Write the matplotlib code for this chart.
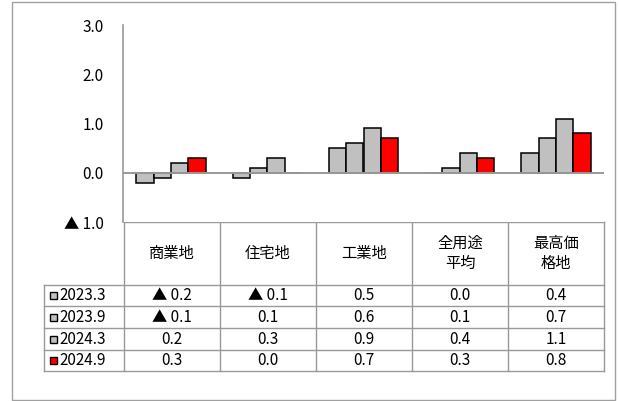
import matplotlib.pyplot as plt
import numpy as np
from matplotlib.patches import Rectangle

plt.rcParams['font.family'] = ['Noto Sans CJK JP', 'DejaVu Sans']

categories = ['商業地', '住宅地', '工業地', '全用途\n平均', '最高価\n格地']
series = ['2023.3', '2023.9', '2024.3', '2024.9']
values = [
    [-0.2, -0.1, 0.5, 0.0, 0.4],
    [-0.1, 0.1, 0.6, 0.1, 0.7],
    [0.2, 0.3, 0.9, 0.4, 1.1],
    [0.3, 0.0, 0.7, 0.3, 0.8],
]
colors = ['#C0C0C0', '#C0C0C0', '#C0C0C0', '#FF0000']
yticks = [-1, 0, 1, 2, 3]
ylabels = ['▲ 1.0', '0.0', '1.0', '2.0', '3.0']

W, H = 619, 401
fig = plt.figure(figsize=(W / 100, H / 100), dpi=100)

def px(x0, y0, x1, y1):
    return [x0 / W, 1 - y1 / H, (x1 - x0) / W, (y1 - y0) / H]

# overlay for borders / table
ov = fig.add_axes([0, 0, 1, 1])
ov.set_xlim(0, W)
ov.set_ylim(H, 0)
ov.axis('off')
ov.add_patch(Rectangle((12, 2), W - 16, H - 3, fill=False, ec='#A0A0A0', lw=1))

ax = fig.add_axes(px(123, 25, 604, 222))
x = np.arange(len(categories))
bw = 0.18
for i, (s, v, c) in enumerate(zip(series, values, colors)):
    ax.bar(x + (i - 1.5) * bw, v, bw, color=c, edgecolor='black', lw=1.1, zorder=3)
ax.axhline(0, color='#999999', lw=1.4, zorder=4)
ax.set_xlim(-0.5, 4.5)
ax.set_ylim(-1, 3)
ax.set_yticks(yticks)
ax.set_yticklabels(ylabels, fontsize=11)
ax.tick_params(axis='y', length=0, pad=14)
ax.set_xticks([])
for sp in ['top', 'right', 'bottom']:
    ax.spines[sp].set_visible(False)
ax.spines['left'].set_color('#999999')
ax.spines['left'].set_linewidth(1.2)

# table
lc = '#999999'
col_x = [44, 124, 220, 316, 412, 508, 604]
row_y = [222, 285, 306, 328, 350, 371]
ov.plot([124, 604], [222, 222], color=lc, lw=1)
for cx in col_x[1:]:
    ov.plot([cx, cx], [222, 371], color=lc, lw=1)
ov.plot([44, 44], [285, 371], color=lc, lw=1)
for ry in row_y[1:]:
    ov.plot([44, 604], [ry, ry], color=lc, lw=1)
for j, cat in enumerate(categories):
    ov.text((col_x[j + 1] + col_x[j + 2]) / 2, (222 + 285) / 2, cat,
            ha='center', va='center', fontsize=11, linespacing=1.3)

def fmt(v):
    return ('▲ %.1f' % abs(v)) if v < 0 else '%.1f' % v

for i, (s, v, c) in enumerate(zip(series, values, colors)):
    yc = (row_y[i + 1] + row_y[i + 2]) / 2
    ov.add_patch(Rectangle((50, yc - 3.5), 7, 7, fc=c, ec='black', lw=1))
    ov.text(59, yc, s, ha='left', va='center', fontsize=11)
    for j, val in enumerate(v):
        ov.text((col_x[j + 1] + col_x[j + 2]) / 2, yc, fmt(val),
                ha='center', va='center', fontsize=11)

fig.savefig('out.png', dpi=100)
